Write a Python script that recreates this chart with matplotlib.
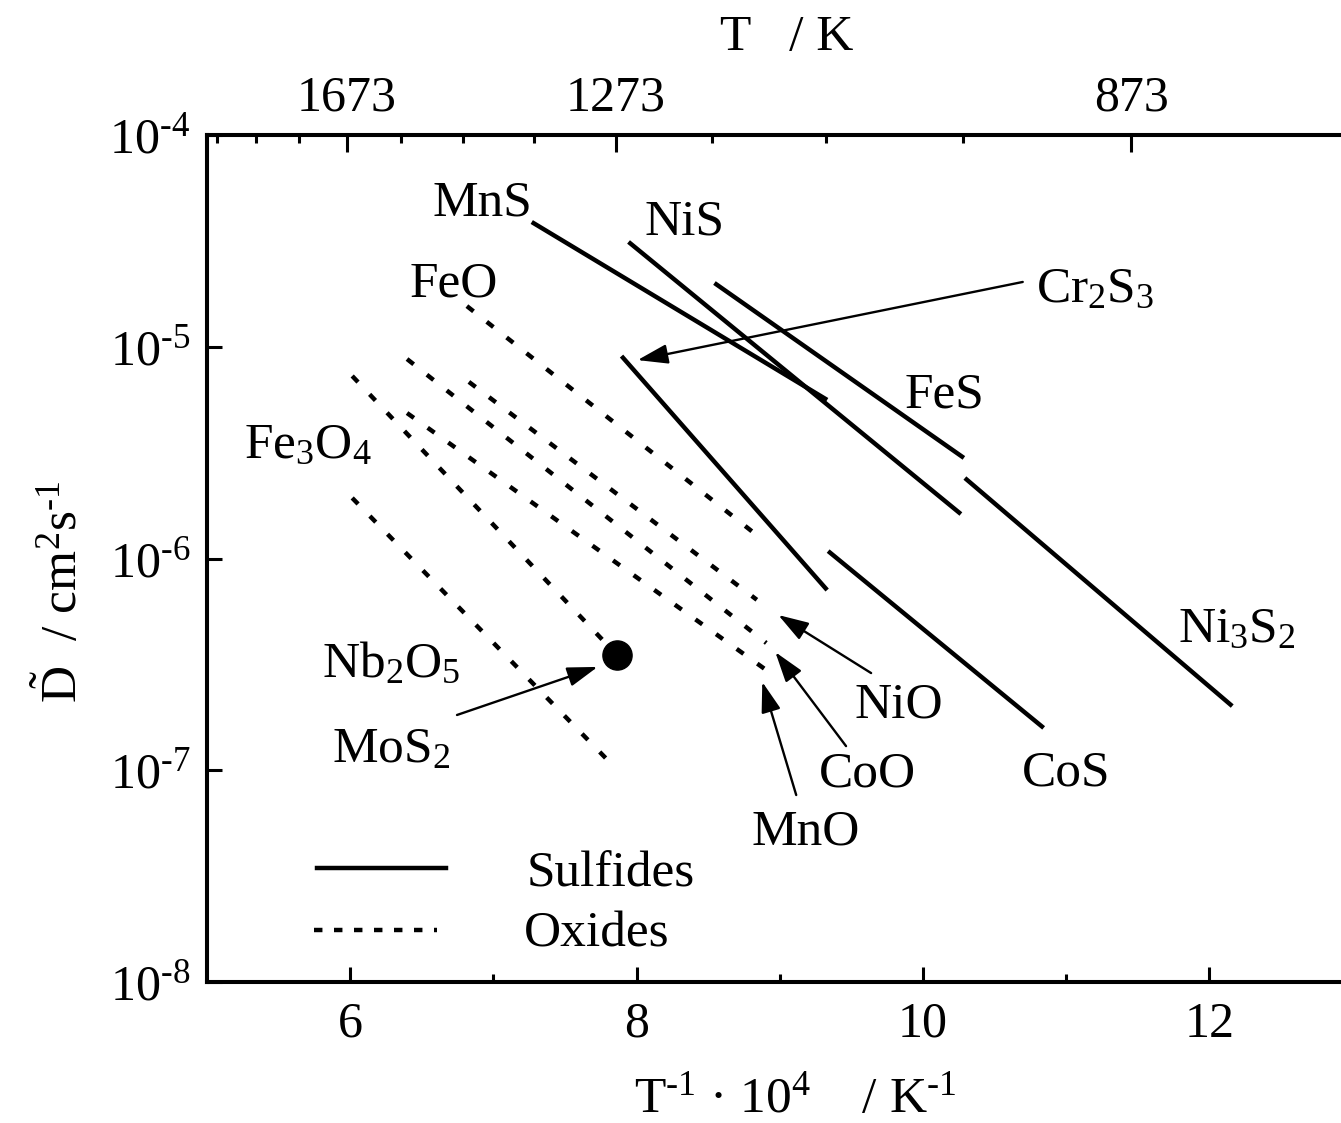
import numpy as np
import matplotlib
matplotlib.use("Agg")
import matplotlib.pyplot as plt
from matplotlib.ticker import NullLocator, FixedLocator

plt.rcParams['font.family'] = ['Liberation Serif', 'DejaVu Serif']
plt.rcParams['mathtext.fontset'] = 'custom'
plt.rcParams['mathtext.rm'] = 'Liberation Serif'
plt.rcParams['mathtext.it'] = 'Liberation Serif:italic'
plt.rcParams['mathtext.default'] = 'regular'

# ---------------- data ----------------
# x = 1e4/T (1/K), y = log10(D / cm^2 s^-1): [start, end] of each line
sulfide_names = ['MnS', 'NiS', 'FeS', 'Ni3S2', 'Cr2S3', 'CoS']
sulfide_x = [[7.268, 9.331], [7.944, 10.265], [8.544, 10.286],
             [10.293, 12.160], [7.895, 9.331], [9.338, 10.843]]
sulfide_logD = [[-4.411, -5.251], [-4.505, -5.790], [-4.699, -5.525],
                [-5.620, -6.697], [-5.044, -6.149], [-5.965, -6.800]]

oxide_names = ['FeO', 'NiO', 'CoO', 'MnO', 'Fe3O4', 'Nb2O5']
oxide_x = [[6.815, 8.840], [6.829, 8.840], [6.397, 8.906],
           [6.397, 8.906], [6.014, 7.790], [6.014, 7.860]]
oxide_logD = [[-4.808, -5.890], [-5.166, -6.195], [-5.058, -6.399],
              [-5.313, -6.527], [-5.138, -6.404], [-5.714, -6.995]]

mos2_x = [7.861]
mos2_logD = [-6.456]

x_ticks = [6, 8, 10, 12]
x_minor = [7, 9, 11]
y_ticks_exp = [-8, -7, -6, -5, -4]
top_T_major = [1673, 1273, 873]
top_T_minor = [1973, 1873, 1773, 1573, 1473, 1373, 1173, 1073, 973, 773]

# ---------------- figure ----------------
W, H = 1341, 1123
fig = plt.figure(figsize=(W / 100, H / 100), dpi=100)
ax = fig.add_axes([207 / W, 141 / H, 1145.5 / W, 847 / H])
ax.set_xlim(5, 13)
ax.set_yscale('log')
ax.set_ylim(1e-8, 1e-4)

LW = 3.2
for xs, ls in zip(sulfide_x, sulfide_logD):
    ax.plot(xs, 10.0 ** np.array(ls), color='black', lw=LW, solid_capstyle='butt')
for xs, ls in zip(oxide_x, oxide_logD):
    ax.plot(xs, 10.0 ** np.array(ls), color='black', lw=LW,
            linestyle=(0, (1.9, 3.8)), dash_capstyle='butt')
ax.plot(mos2_x, 10.0 ** np.array(mos2_logD), 'o', color='black', ms=21)

# legend drawn by hand
ax.plot([5.770, 6.669], [10 ** -7.462] * 2, color='black', lw=LW)
ax.plot([5.749, 6.606], [10 ** -7.754] * 2, color='black', lw=LW,
        linestyle=(0, (1.9, 2.6)), dash_capstyle='butt')
FS = 37
ax.text(7.233, 10 ** -7.551, 'Sulfides', fontsize=FS, ha='left', va='baseline')
ax.text(7.213, 10 ** -7.830, 'Oxides', fontsize=FS, ha='left', va='baseline')

# labels
labels = [
    ('MnS', 6.920, -4.378, 'center'),
    ('NiS', 8.334, -4.472, 'center'),
    ('FeO', 6.725, -4.765, 'center'),
    ('Cr$_2$S$_3$', 10.787, -4.789, 'left'),
    ('FeS', 10.153, -5.285, 'center'),
    ('Fe$_3$O$_4$', 5.261, -5.525, 'left'),
    ('Ni$_3$S$_2$', 11.784, -6.394, 'left'),
    ('Nb$_2$O$_5$', 5.805, -6.560, 'left'),
    ('MoS$_2$', 5.875, -6.961, 'left'),
    ('NiO', 9.833, -6.753, 'center'),
    ('CoO', 9.610, -7.079, 'center'),
    ('MnO', 9.178, -7.353, 'center'),
    ('CoS', 11.003, -7.070, 'center'),
]
for t, x, l, ha in labels:
    ax.text(x, 10 ** l, t, fontsize=FS, ha=ha, va='baseline')

arrows = [
    ((10.697, -4.694), (8.007, -5.063)),
    ((6.746, -6.739), (7.728, -6.512)),
    ((9.638, -6.541), (8.990, -6.267)),
    ((9.463, -6.886), (8.969, -6.442)),
    ((9.115, -7.117), (8.878, -6.583)),
]
for (tx, tl), (hx, hl) in arrows:
    ax.annotate('', xy=(hx, 10 ** hl), xytext=(tx, 10 ** tl),
                arrowprops=dict(arrowstyle='-|>,head_length=0.62,head_width=0.2',
                                mutation_scale=30, lw=1.7, color='black',
                                shrinkA=0, shrinkB=0))

# axes styling
SW = 2.9
for s in ['left', 'bottom', 'top', 'right']:
    ax.spines[s].set_linewidth(SW)
ax.xaxis.set_major_locator(FixedLocator(x_ticks))
ax.xaxis.set_minor_locator(FixedLocator(x_minor))
ax.set_xticklabels([str(v) for v in x_ticks])
ax.yaxis.set_minor_locator(NullLocator())
ax.set_yticks([10.0 ** e for e in y_ticks_exp])
ax.set_yticklabels([r'$10^{\text{-}%d}$' % (-e) for e in y_ticks_exp])
ax.yaxis.set_minor_locator(NullLocator())
ax.tick_params(axis='x', which='major', direction='in', length=11, width=2.2,
               labelsize=36, pad=14, top=False)
ax.tick_params(axis='x', which='minor', direction='in', length=6, width=2.2, top=False)
ax.tick_params(axis='y', which='major', direction='in', length=11, width=2.2,
               labelsize=36, pad=12, right=False)

ax2 = ax.twiny()
ax2.set_xlim(ax.get_xlim())
ax2.set_xticks([1e4 / T for T in top_T_major])
ax2.set_xticklabels([str(T) for T in top_T_major])
ax2.set_xticks([1e4 / T for T in top_T_minor], minor=True)
ax2.tick_params(axis='x', which='major', direction='in', length=12, width=2.2,
                labelsize=36, pad=10)
ax2.tick_params(axis='x', which='minor', direction='in', length=6, width=2.2)
for s in ax2.spines.values():
    s.set_linewidth(SW)

# axis titles
fig.text(787 / W, 1 - 50 / H, 'T   / K', fontsize=FS, ha='center', va='baseline')
fig.text(795 / W, 1 - 1112 / H, r'T$^{\text{-}1}$ \u00b7 10$^{4}$    / K$^{\text{-}1}$'.replace(r'\u00b7', '\u00b7'),
         fontsize=FS, ha='center', va='baseline')
fig.text(62 / W, 1 - 592 / H, r'$\tilde{D}$  / cm$^{2}$s$^{\text{-}1}$', fontsize=FS,
         ha='center', va='center', rotation=90)

fig.savefig('out.png', dpi=100)
